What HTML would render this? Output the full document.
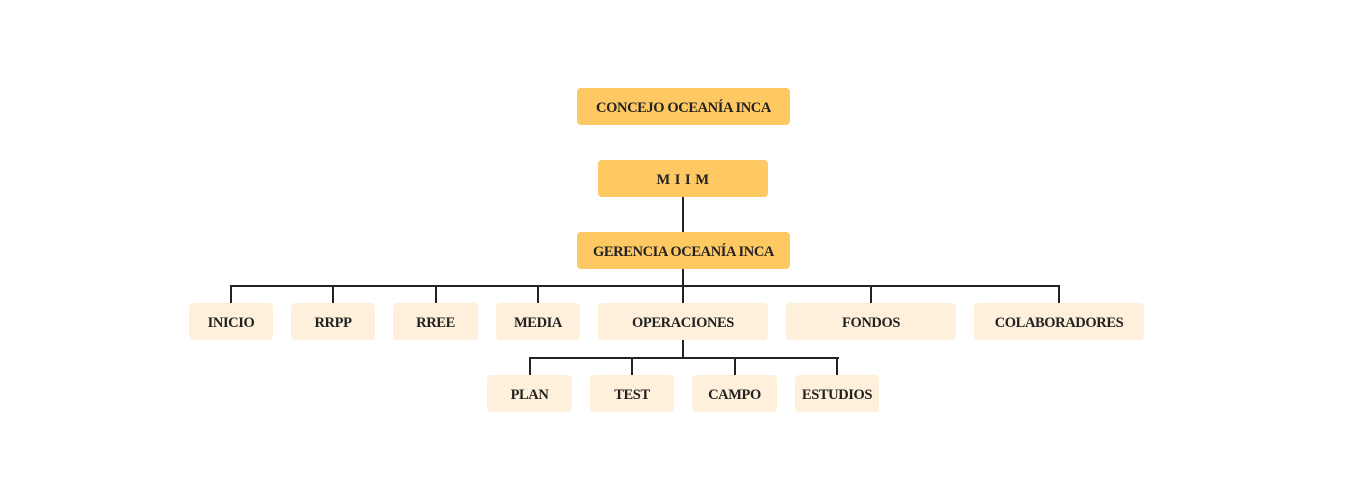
<!DOCTYPE html>
<html><head><meta charset="utf-8"><style>
body{margin:0;width:1366px;height:500px;background:#fff;position:relative;overflow:hidden;font-family:"Liberation Serif",serif}
.b{position:absolute;display:flex;align-items:center;justify-content:center;border-radius:4px;font-weight:bold;font-size:14.5px;color:#222;letter-spacing:-0.4px;box-sizing:border-box;padding-top:4px}
.d{background:#fec962}.l{background:#fff0dc}
.h{position:absolute;height:2px;background:#222}.v{position:absolute;width:2px;background:#222}
</style></head><body>
<div class="v" style="left:682px;top:197px;height:35px"></div>
<div class="v" style="left:682px;top:269px;height:34px"></div>
<div class="h" style="left:230px;top:285px;width:830px"></div>
<div class="v" style="left:230px;top:285px;height:18px"></div>
<div class="v" style="left:332px;top:285px;height:18px"></div>
<div class="v" style="left:435px;top:285px;height:18px"></div>
<div class="v" style="left:537px;top:285px;height:18px"></div>
<div class="v" style="left:870px;top:285px;height:18px"></div>
<div class="v" style="left:1058px;top:285px;height:18px"></div>
<div class="v" style="left:682px;top:340px;height:18px"></div>
<div class="h" style="left:529px;top:357px;width:310px"></div>
<div class="v" style="left:529px;top:357px;height:18px"></div>
<div class="v" style="left:631px;top:357px;height:18px"></div>
<div class="v" style="left:734px;top:357px;height:18px"></div>
<div class="v" style="left:836px;top:357px;height:18px"></div>
<div class="b d" style="left:577px;top:88px;width:213px;height:37px">CONCEJO OCEANÍA INCA</div>
<div class="b d" style="left:598px;top:160px;width:170px;height:37px;letter-spacing:0.5px">M I I M</div>
<div class="b d" style="left:577px;top:232px;width:213px;height:37px">GERENCIA OCEANÍA INCA</div>
<div class="b l" style="left:189px;top:303px;width:84px;height:37px">INICIO</div>
<div class="b l" style="left:291px;top:303px;width:84px;height:37px">RRPP</div>
<div class="b l" style="left:393px;top:303px;width:85px;height:37px">RREE</div>
<div class="b l" style="left:496px;top:303px;width:84px;height:37px">MEDIA</div>
<div class="b l" style="left:598px;top:303px;width:170px;height:37px">OPERACIONES</div>
<div class="b l" style="left:786px;top:303px;width:170px;height:37px">FONDOS</div>
<div class="b l" style="left:974px;top:303px;width:170px;height:37px">COLABORADORES</div>
<div class="b l" style="left:487px;top:375px;width:85px;height:37px">PLAN</div>
<div class="b l" style="left:590px;top:375px;width:84px;height:37px">TEST</div>
<div class="b l" style="left:692px;top:375px;width:85px;height:37px">CAMPO</div>
<div class="b l" style="left:795px;top:375px;width:84px;height:37px">ESTUDIOS</div>
</body></html>
